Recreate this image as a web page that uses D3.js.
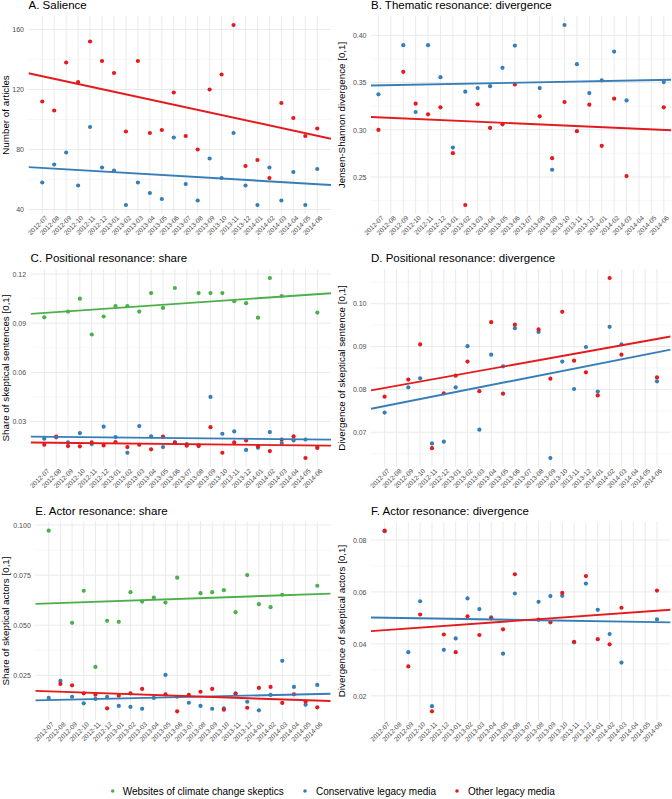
<!DOCTYPE html>
<html>
<head>
<meta charset="utf-8">
<script src="https://cdn.jsdelivr.net/npm/d3@7"></script>
<style>
  body { margin: 0; background: #fff; }
  svg text { font-family: "Liberation Sans", Arial, Helvetica, sans-serif; }
</style>
</head>
<body>
<div class="viz"></div>
<script>
// months on the x axis
var months = ["2012-07","2012-08","2012-09","2012-10","2012-11","2012-12",
  "2013-01","2013-02","2013-03","2013-04","2013-05","2013-06",
  "2013-07","2013-08","2013-09","2013-10","2013-11","2013-12",
  "2014-01","2014-02","2014-03","2014-04","2014-05","2014-06"]

var legendLabels = ["Websites of climate change skeptics", "Conservative legacy media", "Other legacy media"]

// A. salience
var salienceBlue = [58,70,78,56,95,68,66,43,58,51,47,88,57,46,74,61,91,56,43,68,46,65,43,67]
var salienceRed = [112,106,138,125,152,139,131,92,139,91,93,118,89,80,120,130,163,69,73,61,111,101,89,94]
var salienceTicks = [40,80,120,160]

// B. thematic resonance
var thematicBlue = [0.3375,null,0.3895,0.3188,0.3895,0.3557,0.2812,0.3403,0.3441,0.3462,0.3656,0.3891,null,0.3441,0.2577,0.4109,0.3694,0.3389,0.3522,0.3828,0.3311,null,null,0.3505]
var thematicRed = [0.2999,null,0.3613,0.3276,0.3164,0.3238,0.2753,0.2204,0.3269,0.302,0.3058,0.348,null,0.3143,0.27,0.3294,0.2985,0.3266,0.283,0.3329,0.251,null,null,0.3238]
var thematicTicks = [0.25,0.30,0.35,0.40]

// C. positional resonance: share
var posShareGreen = [0.0936,null,0.0971,0.105,0.0831,0.0941,0.1005,0.1005,0.0971,0.1084,0.0993,0.1115,null,0.1084,0.1084,0.1084,0.1034,0.1022,0.0934,0.1176,0.1066,null,null,0.0965]
var posShareBlue = [0.0195,0.0203,0.0172,0.0229,0.0162,0.0268,0.0205,0.0109,0.0272,0.0209,0.0144,0.0174,0.0162,0.0155,0.045,0.0225,0.0239,0.0126,0.014,0.0235,0.0168,0.0184,0.019,0.0144]
var posShareRed = [0.0158,0.0207,0.015,0.0148,0.0172,0.0154,0.0174,0.0144,0.0158,0.013,0.0207,0.017,0.0152,0.015,0.0265,0.0109,0.0172,0.0184,0.0148,0.0119,0.019,0.0209,0.0077,0.0138]
var posShareTicks = [0.03,0.06,0.09,0.12]

// D. positional resonance: divergence
var posDivBlue = [0.0746,null,0.0805,0.0826,0.0674,0.0678,0.0805,0.0901,0.0706,0.0881,0.0854,0.0943,null,0.0934,0.064,0.0865,0.0801,0.0899,0.0795,0.0946,0.0905,null,null,0.0819]
var posDivRed = [0.0783,null,0.0823,0.0905,0.0663,0.0791,0.0832,0.0865,0.0796,0.0957,0.079,0.0951,null,0.094,0.0825,0.0981,0.0867,0.084,0.0786,0.106,0.0881,null,null,0.0828]
var posDivTicks = [0.07,0.08,0.09,0.10]

// E. actor resonance: share
var actShareGreen = [0.0972,null,0.0512,0.0672,0.0292,0.0522,0.0517,0.0665,0.0618,0.0638,0.0613,0.0737,null,0.066,0.0665,0.0675,0.0565,0.075,0.0605,0.059,0.0652,null,null,0.0697]
var actShareBlue = [0.0137,0.0222,0.0143,0.011,0.0132,0.0143,0.0097,0.0092,0.0083,0.0137,0.0252,0.0143,0.0113,0.0097,0.0083,0.0085,0.016,0.0118,0.0075,0.0152,0.0322,0.0192,0.0103,0.0202]
var actShareRed = [null,0.0207,0.02,0.016,0.0153,0.0085,0.0148,0.016,0.0182,null,0.0155,0.007,0.0152,0.0168,0.0182,0.0078,0.0157,0.0088,0.0187,0.0192,0.0112,0.0155,0.0118,0.009]
var actShareTicks = [0.025,0.050,0.075,0.100]

// F. actor resonance: divergence (blue 2012-07 sits under the red point)
var actDivBlue = [0.0834,null,0.0368,0.0564,0.016,0.0377,0.0421,0.0575,0.0534,0.0502,0.0362,0.0594,null,0.0562,0.0584,0.0585,0.0406,0.0632,0.0531,0.0438,0.0328,null,null,0.0494]
var actDivRed = [0.0836,null,0.0313,0.0513,0.014,0.0436,0.0368,0.0506,0.0434,0.0498,0.0456,0.0668,null,0.0493,0.0483,0.0596,0.0408,0.0661,0.0418,0.0398,0.0539,null,null,0.0605]
var actDivTicks = [0.02,0.04,0.06,0.08]

var colors = {green: "#4DAF4A", blue: "#377EB8", red: "#E41A1C"}

var width = 672, height = 799

var svg = d3.select(".viz")
  .append("svg")
    .attr("width", width)
    .attr("height", height)

// one entry per facet, with its box on the page
var panels = [
  {title: "A. Salience", ylab: "Number of articles", fmt: d3.format("d"), ticks: salienceTicks,
   series: [["blue", salienceBlue], ["red", salienceRed]],
   box: {left: 28.5, right: 331, top: 16, bottom: 214}, pad: 1.15, colX: 0},
  {title: "B. Thematic resonance: divergence", ylab: "Jensen-Shannon divergence [0,1]", fmt: d3.format(".2f"), ticks: thematicTicks,
   series: [["blue", thematicBlue], ["red", thematicRed]],
   box: {left: 371, right: 671.2, top: 16, bottom: 214}, pad: 0.6, colX: 336},
  {title: "C. Positional resonance: share", ylab: "Share of skeptical sentences [0,1]", fmt: d3.format(".2f"), ticks: posShareTicks,
   series: [["green", posShareGreen], ["blue", posShareBlue], ["red", posShareRed]],
   box: {left: 30.6, right: 331, top: 269, bottom: 467}, pad: 1.15, colX: 0},
  {title: "D. Positional resonance: divergence", ylab: "Divergence of skeptical sentence [0,1]", fmt: d3.format(".2f"), ticks: posDivTicks,
   series: [["blue", posDivBlue], ["red", posDivRed]],
   box: {left: 371, right: 670.6, top: 269, bottom: 467}, pad: 1.15, colX: 336},
  {title: "E. Actor resonance: share", ylab: "Share of skeptical actors [0,1]", fmt: d3.format(".3f"), ticks: actShareTicks,
   series: [["green", actShareGreen], ["blue", actShareBlue], ["red", actShareRed]],
   box: {left: 35.3, right: 330.7, top: 521.6, bottom: 720.4}, pad: 1.15, colX: 0},
  {title: "F. Actor resonance: divergence", ylab: "Divergence of skeptical actors [0,1]", fmt: d3.format(".2f"), ticks: actDivTicks,
   series: [["blue", actDivBlue], ["red", actDivRed]],
   box: {left: 371, right: 670.6, top: 521.6, bottom: 720.4}, pad: 1.15, colX: 336}
]

// least squares line through the non-missing points
function fitLine(values) {
  var pts = values.map((v, i) => [i, v]).filter(d => d[1] != null)
  var mx = d3.mean(pts, d => d[0]), my = d3.mean(pts, d => d[1])
  var sxy = d3.sum(pts, d => (d[0] - mx) * (d[1] - my))
  var sxx = d3.sum(pts, d => (d[0] - mx) * (d[0] - mx))
  var b = sxy / sxx
  return function(x) { return my + b * (x - mx) }
}

panels.forEach(function(p, k) {
  var b = p.box
  var n = months.length

  var x = d3.scaleLinear()
    .domain([-p.pad, n - 1 + p.pad])
    .range([b.left, b.right])

  var fits = p.series.map(s => fitLine(s[1]))

  // y range like ggplot: data + fitted values, 5% expansion
  var all = []
  p.series.forEach(function(s, i) {
    s[1].forEach(v => { if (v != null) all.push(v) })
    all.push(fits[i](0), fits[i](n - 1))
  })
  var ext = d3.extent(all), ey = (ext[1] - ext[0]) * 0.05
  var y = d3.scaleLinear()
    .domain([ext[0] - ey, ext[1] + ey])
    .range([b.bottom, b.top])

  var g = svg.append("g")

  svg.append("clipPath").attr("id", "clip" + k)
    .append("rect")
      .attr("x", b.left).attr("y", b.top)
      .attr("width", b.right - b.left).attr("height", b.bottom - b.top)

  // grid
  var step = p.ticks[1] - p.ticks[0]
  var minors = d3.range(p.ticks[0] - step / 2, p.ticks[p.ticks.length - 1] + step, step)
    .filter(v => v > y.domain()[0] && v < y.domain()[1])

  g.selectAll(".minor").data(minors).join("line")
    .attr("x1", b.left).attr("x2", b.right)
    .attr("y1", d => y(d)).attr("y2", d => y(d))
    .attr("stroke", "#f2f2f2").attr("stroke-width", 0.6)

  g.selectAll(".hmajor").data(p.ticks).join("line")
    .attr("x1", b.left).attr("x2", b.right)
    .attr("y1", d => y(d)).attr("y2", d => y(d))
    .attr("stroke", "#e8e8e8").attr("stroke-width", 0.9)

  g.selectAll(".vmajor").data(d3.range(n)).join("line")
    .attr("x1", d => x(d)).attr("x2", d => x(d))
    .attr("y1", b.top).attr("y2", b.bottom)
    .attr("stroke", "#e8e8e8").attr("stroke-width", 0.9)

  // axes
  var ya = g.append("g")
    .attr("transform", "translate(" + b.left + ",0)")
    .call(d3.axisLeft(y).tickValues(p.ticks).tickFormat(p.fmt).tickSize(0).tickPadding(4.5))
  ya.select(".domain").remove()
  ya.selectAll("text")
    .attr("fill", "#4d4d4d")
    .style("font-size", "7px")

  var xa = g.append("g")
    .attr("transform", "translate(0," + b.bottom + ")")
    .call(d3.axisBottom(x).tickValues(d3.range(n)).tickFormat(i => months[i]).tickSize(0))
  xa.select(".domain").remove()
  xa.selectAll("text")
    .attr("x", 0.5)
    .attr("y", 2)
    .attr("dy", "0.71em")
    .attr("text-anchor", "end")
    .attr("transform", "rotate(-45)")
    .attr("fill", "#4d4d4d")
    .style("font-size", "6.6px")

  // titles
  g.append("text")
    .attr("x", b.left)
    .attr("y", b.top - 7)
    .attr("fill", "#000")
    .style("font-size", "11.5px")
    .text(p.title)

  g.append("text")
    .attr("transform", "translate(" + (p.colX + 6) + "," + ((b.top + b.bottom) / 2) + ") rotate(-90)")
    .attr("text-anchor", "middle")
    .attr("dy", "0.35em")
    .attr("fill", "#000")
    .style("font-size", "9.8px")
    .text(p.ylab)

  // points
  p.series.forEach(function(s) {
    g.append("g").selectAll("circle")
      .data(s[1].map((v, i) => ({i: i, v: v})).filter(d => d.v != null))
      .join("circle")
        .attr("cx", d => x(d.i))
        .attr("cy", d => y(d.v))
        .attr("r", 2.1)
        .attr("fill", colors[s[0]])
  })

  // fitted lines across the full x range
  p.series.forEach(function(s, i) {
    var xs = x.domain()
    g.append("path")
      .datum(xs)
      .attr("clip-path", "url(#clip" + k + ")")
      .attr("fill", "none")
      .attr("stroke", colors[s[0]])
      .attr("stroke-width", 1.9)
      .attr("d", d3.line().x(d => x(d)).y(d => y(fits[i](d))))
  })
})

// legend
var legendX = [[112.7, 122.7], [305, 316], [457, 468]]
var legend = svg.append("g").attr("transform", "translate(0,791)")
var keys = ["green", "blue", "red"]
keys.forEach(function(c, i) {
  legend.append("circle")
    .attr("cx", legendX[i][0]).attr("cy", 0).attr("r", 1.8)
    .attr("fill", colors[c])
  legend.append("text")
    .attr("x", legendX[i][1]).attr("y", 0).attr("dy", "0.35em")
    .attr("fill", "#000")
    .style("font-size", "10px")
    .text(legendLabels[i])
})
</script>
</body>
</html>
